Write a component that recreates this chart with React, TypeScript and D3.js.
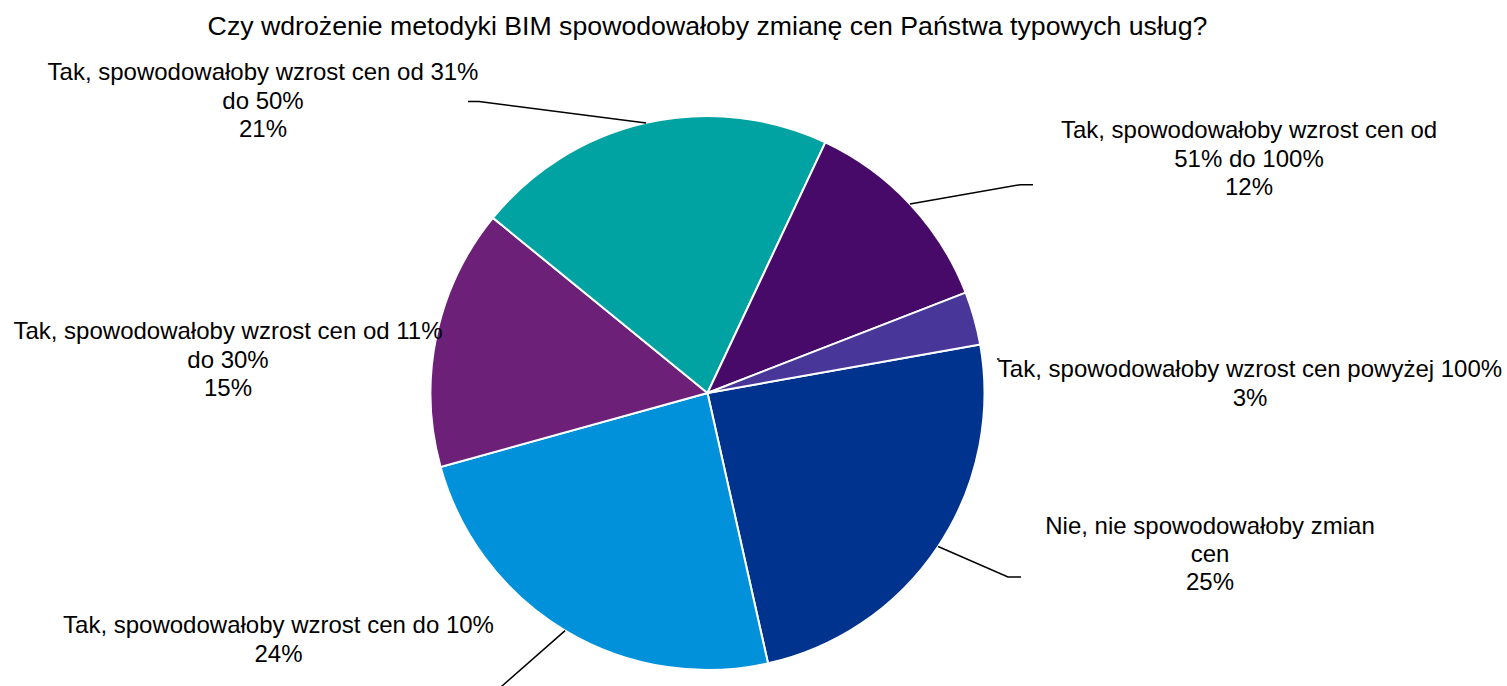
import React from "react";
import * as d3 from "d3";

const title = "Czy wdrożenie metodyki BIM spowodowałoby zmianę cen Państwa typowych usług?";

// slices in clockwise order
const categories = [
  "Nie, nie spowodowałoby zmian cen",
  "Tak, spowodowałoby wzrost cen do 10%",
  "Tak, spowodowałoby wzrost cen od 11% do 30%",
  "Tak, spowodowałoby wzrost cen od 31% do 50%",
  "Tak, spowodowałoby wzrost cen od 51% do 100%",
  "Tak, spowodowałoby wzrost cen powyżej 100%",
];
const values = [24.3, 24.2, 15.2, 21.1, 12.1, 3.1];
const percentLabels = ["25%", "24%", "15%", "21%", "12%", "3%"];
const labelLines = [
  ["Nie, nie spowodowałoby zmian", "cen"],
  ["Tak, spowodowałoby wzrost cen do 10%"],
  ["Tak, spowodowałoby wzrost cen od 11%", "do 30%"],
  ["Tak, spowodowałoby wzrost cen od 31%", "do 50%"],
  ["Tak, spowodowałoby wzrost cen od", "51% do 100%"],
  ["Tak, spowodowałoby wzrost cen powyżej 100%"],
];
const colors = ["#00338D", "#0091DA", "#6D2077", "#00A3A1", "#470A68", "#483698"];

// layout
const W = 1507;
const H = 686;
const CX = 707.5;
const CY = 393;
const R = 277;
const START = (79.9 * Math.PI) / 180;
const FONT = "'Liberation Sans', Arial, Helvetica, sans-serif";
const FS = 24;
const TITLE_FS = 26.7;
const LH = 28.2;
// label anchor: center x, first line center y
const labelPos = [
  [1210, 525.5],
  [278.5, 625],
  [228, 331],
  [263, 72],
  [1249, 130],
  [1250, 369],
];
// leader: elbow and end points (null = tiny mark)
const leaders: ([number, number][] | null)[] = [
  [[1008, 577], [1021, 577]],
  [[502, 686], [490, 697]],
  null,
  [[479, 101.5], [468, 101.5]],
  [[1020, 184.7], [1033, 184.7]],
  null,
];

export default function App() {
  const pie = d3
    .pie<number>()
    .sort(null)
    .value((d) => d)
    .startAngle(START)
    .endAngle(START + 2 * Math.PI);
  const arcs = pie(values);
  const arc = d3.arc<d3.PieArcDatum<number>>().innerRadius(0).outerRadius(R);

  return (
    <svg
      width={W}
      height={H}
      style={{ position: "absolute", left: 0, top: 0, display: "block", background: "#fff" }}
      fontFamily={FONT}
    >
      <text x={CX} y={26} dy="0.35em" textAnchor="middle" fontSize={TITLE_FS} fill="#000">
        {title}
      </text>
      <g transform={`translate(${CX},${CY})`}>
        {arcs.map((a, i) => (
          <path key={categories[i]} d={arc(a) || ""} fill={colors[i]} stroke="#fff" strokeWidth={2} strokeLinejoin="round" />
        ))}
      </g>
      {arcs.map((a, i) => {
        const L = leaders[i];
        if (!L) return null;
        const mid = (a.startAngle + a.endAngle) / 2;
        const sx = CX + Math.sin(mid) * R;
        const sy = CY - Math.cos(mid) * R;
        const pts: [number, number][] = [[sx, sy], ...L];
        return (
          <path
            key={"l" + i}
            d={d3.line()(pts) || ""}
            fill="none"
            stroke="#000"
            strokeWidth={1.5}
          />
        );
      })}
      <line x1={997} y1={359} x2={999.5} y2={359} stroke="#000" strokeWidth={1.5} />
      {labelLines.map((lines, i) => {
        const all = [...lines, percentLabels[i]];
        const [x, y] = labelPos[i];
        return (
          <text key={"t" + i} textAnchor="middle" fontSize={FS} fill="#000">
            {all.map((s, j) => (
              <tspan key={j} x={x} y={y + j * LH} dy="0.35em">
                {s}
              </tspan>
            ))}
          </text>
        );
      })}
    </svg>
  );
}
